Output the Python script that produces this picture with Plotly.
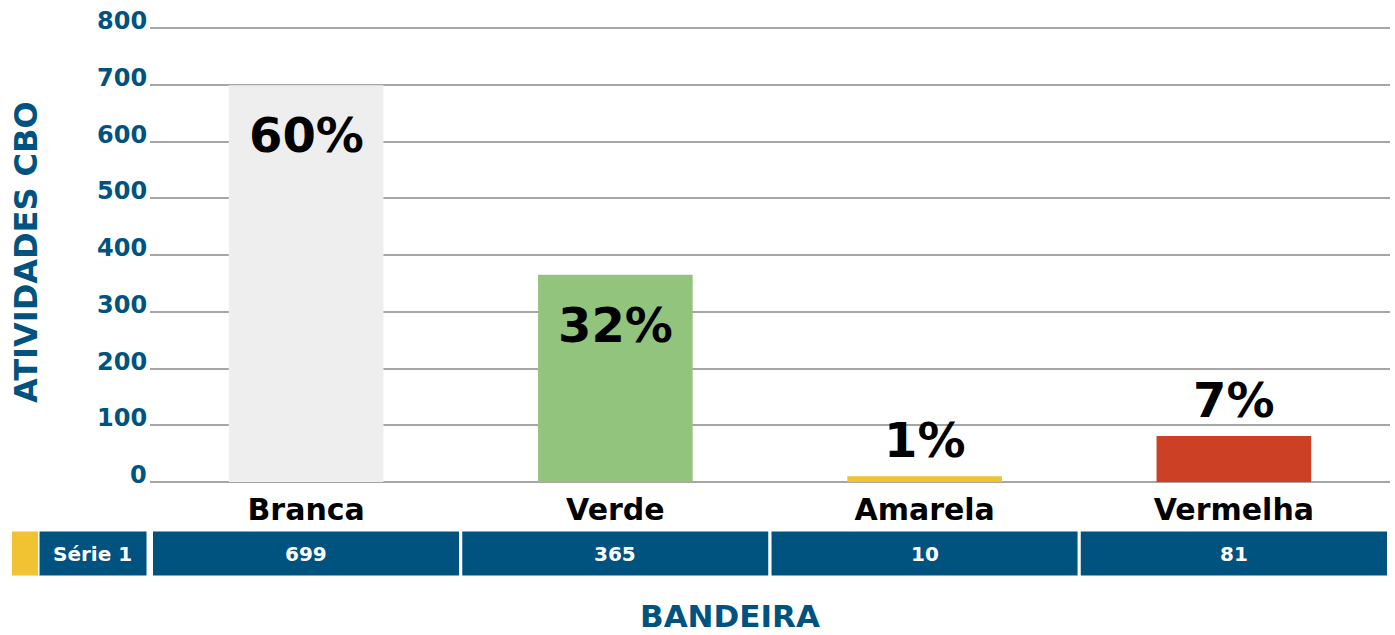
import plotly.graph_objects as go

categories = ["Branca", "Verde", "Amarela", "Vermelha"]
values = [699, 365, 10, 81]
pct_labels = ["60%", "32%", "1%", "7%"]
pct_inside = [True, True, False, False]
bar_colors = ["#EEEEEE", "#93C47D", "#F1C232", "#CC4125"]
y_ticks = [0, 100, 200, 300, 400, 500, 600, 700, 800]
series_name = "Série 1"
y_title = "ATIVIDADES CBO"
x_title = "BANDEIRA"

BLUE = "#00527F"
FONT = "DejaVu Sans"

fig = go.Figure()
fig.add_trace(go.Bar(
    x=categories, y=values,
    marker=dict(color=bar_colors, line=dict(width=0)),
    hoverinfo="x+y", showlegend=False, cliponaxis=False,
))

annotations = []
for c, v, p, inside in zip(categories, values, pct_labels, pct_inside):
    annotations.append(dict(
        x=c, y=v, xref="x", yref="y", text=p, showarrow=False,
        xanchor="center",
        yanchor="top" if inside else "bottom",
        yshift=-20 if inside else 6,
        font=dict(family=FONT, size=48, color="#000000", weight="bold"),
    ))

# y tick labels sitting on their grid lines
for t in y_ticks:
    annotations.append(dict(
        x=-1 / 1240, y=t, xref="paper", yref="y", text=str(t), showarrow=False,
        xanchor="right", yanchor="bottom", yshift=-9,
        font=dict(family=FONT, size=24, color=BLUE, weight="bold"),
    ))

# data table under the chart (paper coords relative to a 460px-tall plot area)
PH = 460.0
row_top, row_bot = -48 / PH, -95 / PH
row_mid = (row_top + row_bot) / 2
shapes = []
for i, v in enumerate(values):
    shapes.append(dict(
        type="rect", xref="x", yref="paper",
        x0=i - 0.5, x1=i + 0.5, y0=row_bot, y1=row_top,
        fillcolor=BLUE, line=dict(color="white", width=3), layer="above",
    ))
    annotations.append(dict(
        x=categories[i], y=row_mid, xref="x", yref="paper",
        xanchor="center", yanchor="middle",
        text=str(v), showarrow=False,
        font=dict(family=FONT, size=20, color="white", weight="bold"),
    ))
# legend key cell
shapes.append(dict(type="rect", xref="paper", yref="paper",
                   x0=-0.0903, x1=-0.0016, y0=row_bot, y1=row_top,
                   fillcolor=BLUE, line=dict(color="white", width=3), layer="above"))
shapes.append(dict(type="rect", xref="paper", yref="paper",
                   x0=-0.1113, x1=-0.0903, y0=row_bot + 0.003, y1=row_top - 0.003,
                   fillcolor="#F1C232", line=dict(width=0), layer="above"))
annotations.append(dict(
    x=-0.046, y=row_mid, xref="paper", yref="paper",
    xanchor="center", yanchor="middle",
    text=series_name, showarrow=False,
    font=dict(family=FONT, size=20, color="white", weight="bold"),
))

annotations.append(dict(
    x=-0.1, y=(482 - 252) / PH, xref="paper", yref="paper", text=y_title, textangle=-90,
    xanchor="center", yanchor="middle",
    showarrow=False, font=dict(family=FONT, size=32, color=BLUE, weight="bold"),
))
annotations.append(dict(
    x=0.4677, y=(482 - 616) / PH, xref="paper", yref="paper", text=x_title,
    xanchor="center", yanchor="middle",
    showarrow=False, font=dict(family=FONT, size=31, color=BLUE, weight="bold"),
))

fig.update_layout(
    width=1395, height=635,
    margin=dict(l=150, r=5, t=22, b=153, autoexpand=False),
    paper_bgcolor="white", plot_bgcolor="white",
    bargap=0.5,
    xaxis=dict(
        automargin=False,
        showgrid=False, showline=False, zeroline=False,
        ticks="", ticklabelstandoff=7,
        tickfont=dict(family=FONT, size=30, color="#000000", weight="bold"),
    ),
    yaxis=dict(
        automargin=False,
        range=[0, 810.6], tickvals=y_ticks, showgrid=True,
        gridcolor="#A6A6A6", gridwidth=1.5,
        zeroline=True, zerolinecolor="#A6A6A6", zerolinewidth=1.5,
        showline=False, showticklabels=False,
    ),
    shapes=shapes, annotations=annotations,
)

fig.write_html("out.html", config={"displayModeBar": False},
               post_script="document.body.style.margin='0';")
